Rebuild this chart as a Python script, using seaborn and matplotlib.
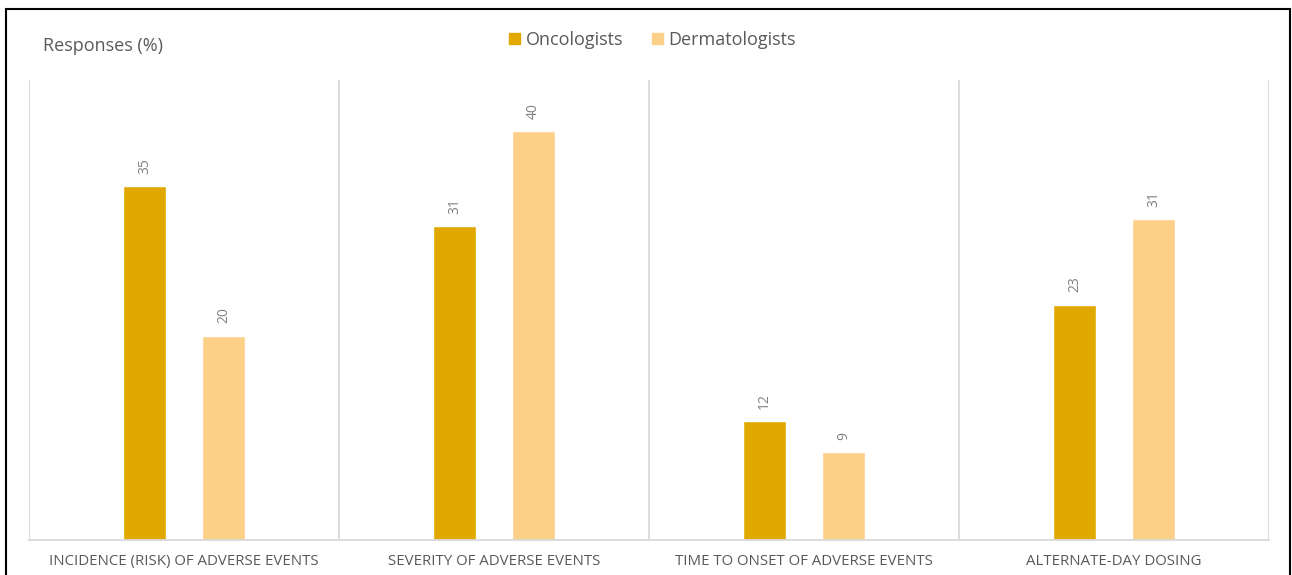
import seaborn as sns
import matplotlib.pyplot as plt
import matplotlib.patches as mpatches
import pandas as pd

# data
categories = [
    "INCIDENCE (RISK) OF ADVERSE EVENTS",
    "SEVERITY OF ADVERSE EVENTS",
    "TIME TO ONSET OF ADVERSE EVENTS",
    "ALTERNATE-DAY DOSING",
]
groups = ["Oncologists", "Dermatologists"]
oncologists = [34.6, 30.7, 11.6, 23.0]
dermatologists = [20.0, 40.0, 8.6, 31.4]
colors = ["#E1A900", "#FDD089"]

df = pd.DataFrame({
    "Category": categories * 2,
    "Group": [groups[0]] * 4 + [groups[1]] * 4,
    "Value": oncologists + dermatologists,
})

sns.set_theme(style="white")
plt.rcParams["font.family"] = ["Open Sans", "DejaVu Sans"]
text_gray = "#595959"

fig = plt.figure(figsize=(12.92, 5.75), dpi=100)
ax = fig.add_axes([29 / 1292, 35 / 575, 1240 / 1292, 460 / 575])

sns.barplot(data=df, x="Category", y="Value", hue="Group", order=categories,
            hue_order=groups, palette=colors, width=0.51, gap=0.46,
            saturation=1, legend=False, ax=ax)

for cont in ax.containers:
    ax.bar_label(cont, fmt="%.0f", rotation=90, padding=9, fontsize=10,
                 color="#808080")

ax.set_xlim(-0.5, 3.5)
ax.set_ylim(0, 45)
ax.set_yticks([])
ax.set_xlabel("")
ax.set_ylabel("")
for x in [-0.5, 0.5, 1.5, 2.5, 3.5]:
    ax.axvline(x, color="#D9D9D9", lw=1.3, zorder=0)
for s in ["top", "left", "right"]:
    ax.spines[s].set_visible(False)
ax.spines["bottom"].set_color("#D9D9D9")
ax.spines["bottom"].set_linewidth(1.3)
ax.tick_params(axis="x", length=0, pad=10, labelcolor=text_gray)
for lab in ax.get_xticklabels():
    lab.set_fontsize(10.8)

fig.text(43 / 1292, 1 - 46 / 575, "Responses (%)", fontsize=13, color=text_gray,
         va="center", ha="left")

handles = [mpatches.Patch(color=c, label=g) for g, c in zip(groups, colors)]
fig.legend(handles=handles, loc="center", bbox_to_anchor=(0.505, 1 - 40 / 575),
           ncol=2, frameon=False, fontsize=13, handlelength=0.6,
           handleheight=0.6, handletextpad=0.3, columnspacing=1.6,
           labelcolor=text_gray)

# outer frame of the picture
fig.patches.append(mpatches.Rectangle((6 / 1292, -0.05), 1284 / 1292, 1.05 - 9 / 575,
                                      transform=fig.transFigure, fill=False,
                                      edgecolor="black", lw=1.5))

fig.savefig("out.png", dpi=100)
